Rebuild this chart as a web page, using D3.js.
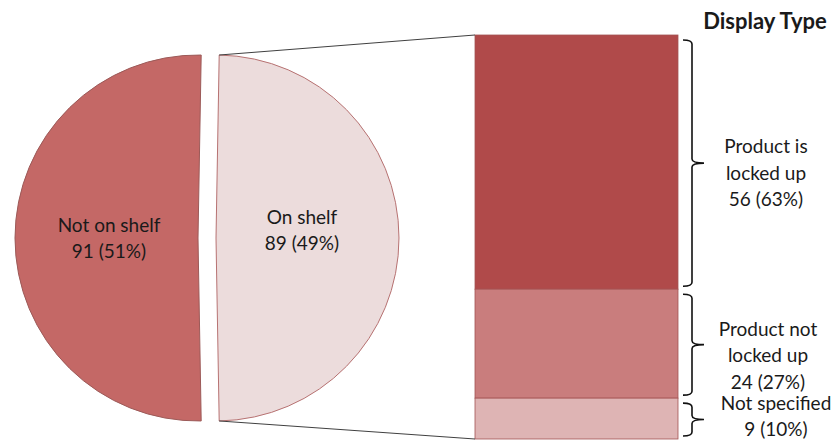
<!DOCTYPE html>
<html>
<head>
<meta charset="utf-8">
<script src="https://cdn.jsdelivr.net/npm/d3@7"></script>
<style>
  body { margin: 0; background: #fff; }
  text { font-family: Lato, "Open Sans", sans-serif; fill: #1a1a1a; }
</style>
</head>
<body>
<script>
// pie data (first slice is the one broken out into the bar)
var pieCats = ["On shelf", "Not on shelf"];
var pieVals = [89, 91];
var pieLabels = ["89 (49%)", "91 (51%)"];

// bar data
var barCats = ["Product is locked up", "Product not locked up", "Not specified"];
var barVals = [56, 24, 9];
var barLines = [["Product is", "locked up", "56 (63%)"],
                ["Product not", "locked up", "24 (27%)"],
                ["Not specified", "9 (10%)"]];

var title = "Display on Shelf in Shop";
var legendTitle = "Display Type";

var width = 838, height = 441;
var pieColors = ["#ecdcdc", "#c46866"];
var pieStroke = ["#b77272", "#9c5a58"];
var barColors = ["#b04a4a", "#c97d7d", "#deb4b4"];

var svg = d3.select("body").append("svg")
    .attr("width", width)
    .attr("height", height);

// title sits above the visible area, only descenders peek in (as in the cropped original)
svg.append("text")
    .attr("x", 263).attr("y", -5)
    .attr("textLength", 398)
    .attr("lengthAdjust", "spacingAndGlyphs")
    .style("font-size", "32px").style("font-weight", "bold")
    .text(title);

// ---- pie ----
var cx = 207, cy = 238, r = 183, explode = 9;
var total = d3.sum(pieVals);
var startA = Math.PI / 2 - (pieVals[0] / total) * Math.PI;
var pie = d3.pie().sort(null).startAngle(startA).endAngle(startA + 2 * Math.PI);
var arc = d3.arc().innerRadius(0).outerRadius(r);
var arcs = pie(pieVals);

function offset(d) {
  var m = (d.startAngle + d.endAngle) / 2;
  return [cx + explode * Math.sin(m), cy - explode * Math.cos(m)];
}

var slices = svg.selectAll(".slice")
    .data(arcs)
  .enter().append("g")
    .attr("class", "slice")
    .attr("transform", function(d) { var o = offset(d); return "translate(" + o[0] + "," + o[1] + ")"; });

slices.append("path")
    .attr("d", arc)
    .attr("fill", function(d, i) { return pieColors[i]; })
    .attr("stroke", function(d, i) { return pieStroke[i]; })
    .attr("stroke-width", 1);

var labelPos = [[86, -21], [-89, -13]];
slices.append("text")
    .attr("text-anchor", "middle")
    .style("font-size", "19px")
    .each(function(d, i) {
      var el = d3.select(this);
      var lines = [pieCats[i], pieLabels[i]];
      lines.forEach(function(t, k) {
        el.append("tspan")
          .attr("x", labelPos[i][0])
          .attr("y", labelPos[i][1] + k * 26.5 + 6.5)
          .text(t);
      });
    });

// ---- bar ----
var barX = 475, barW = 203;
var y = d3.scaleLinear().domain([0, d3.sum(barVals)]).range([35, 439]);
var cum = [0];
barVals.forEach(function(v, i) { cum.push(cum[i] + v); });

svg.selectAll(".bar")
    .data(barVals)
  .enter().append("rect")
    .attr("class", "bar")
    .attr("x", barX)
    .attr("width", barW)
    .attr("y", function(d, i) { return y(cum[i]); })
    .attr("height", function(d, i) { return y(cum[i + 1]) - y(cum[i]); })
    .attr("fill", function(d, i) { return barColors[i]; })
    .attr("stroke", "#a45454")
    .attr("stroke-width", 0.8);

// connector lines from the broken-out slice to the bar
var o0 = offset(arcs[0]);
var a1 = arcs[0].startAngle, a2 = arcs[0].endAngle;
svg.append("line")
    .attr("x1", o0[0] + r * Math.sin(a1)).attr("y1", o0[1] - r * Math.cos(a1))
    .attr("x2", barX).attr("y2", y(0))
    .attr("stroke", "#404040").attr("stroke-width", 1);
svg.append("line")
    .attr("x1", o0[0] + r * Math.sin(a2)).attr("y1", o0[1] - r * Math.cos(a2))
    .attr("x2", barX).attr("y2", y(cum[cum.length - 1]))
    .attr("stroke", "#404040").attr("stroke-width", 1);

// braces
function brace(y0, y1) {
  var xa = 683, xb = 692, xt = 704, m = (y0 + y1) / 2, c = 4;
  return "M" + xa + "," + y0 + " Q" + xb + "," + y0 + " " + xb + "," + (y0 + c) +
         " L" + xb + "," + (m - c) + " Q" + xb + "," + m + " " + xt + "," + m +
         " Q" + xb + "," + m + " " + xb + "," + (m + c) +
         " L" + xb + "," + (y1 - c) + " Q" + xb + "," + y1 + " " + xa + "," + y1;
}
svg.selectAll(".brace")
    .data(barVals)
  .enter().append("path")
    .attr("class", "brace")
    .attr("d", function(d, i) { return brace(y(cum[i]) + 5, y(cum[i + 1]) - 3); })
    .attr("fill", "none")
    .attr("stroke", "#111")
    .attr("stroke-width", 1.6);

// bar labels
var labelX = [766, 768, 776];
var labelDy = [11, 12, -2];
svg.selectAll(".blabel")
    .data(barLines)
  .enter().append("text")
    .attr("class", "blabel")
    .attr("text-anchor", "middle")
    .style("font-size", "19px")
    .each(function(lines, i) {
      var el = d3.select(this);
      var mid = (y(cum[i]) + y(cum[i + 1])) / 2 + labelDy[i];
      lines.forEach(function(t, k) {
        el.append("tspan")
          .attr("x", labelX[i])
          .attr("y", mid + (k - (lines.length - 1) / 2) * 26.5 + 6.5)
          .text(t);
      });
    });

svg.append("text")
    .attr("x", 765).attr("y", 29)
    .attr("text-anchor", "middle")
    .style("font-size", "22px").style("font-weight", "bold")
    .text(legendTitle);
</script>
</body>
</html>
